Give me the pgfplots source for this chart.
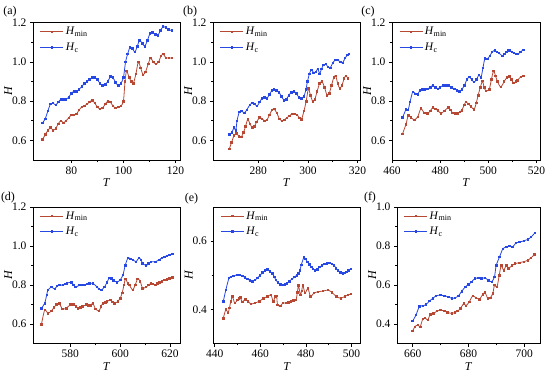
\documentclass[border=0pt]{standalone}
\usepackage{fontspec}
\setmainfont{Liberation Serif}
\usepackage{pgfplots}
\pgfplotsset{compat=1.18}
\definecolor{cmin}{RGB}{183,72,52}
\definecolor{cc}{RGB}{40,72,228}
\pgfplotsset{panel/.style={
  scale only axis, width=147pt, height=137pt,
  tick pos=left, tick align=outside,
  minor x tick num=1, minor y tick num=1,
  major tick length=3pt, minor tick length=1.8pt,
  axis line style={line width=0.6pt}, every tick/.style={black,line width=0.6pt},
  xlabel={\textit{T}}, ylabel={\textit{H}},
  ticklabel style={font=\fontsize{11.5}{13}\selectfont},
  label style={font=\fontsize{12}{13}\selectfont},
  xlabel style={yshift=2.5pt}, ylabel style={yshift=-7pt},
  /pgf/number format/assume math mode=true,
  xticklabel style={/pgf/number format/.cd, fixed, precision=0},
  yticklabel style={/pgf/number format/.cd, fixed, fixed zerofill, precision=1},
  legend style={at={(rel axis cs:0.04,0.99)}, anchor=north west, draw=none, fill=none,
     font=\fontsize{11.5}{13}\selectfont, row sep=2.5pt, inner sep=1pt},
  legend cell align=left,
  legend image code/.code={\draw[mark repeat=2,mark phase=2,#1] plot coordinates {(0pt,0pt) (11.5pt,0pt) (23pt,0pt)};},
  every axis plot/.append style={line width=0.8pt, mark size=0.75pt},
}}
\pgfplotsset{rmin/.style={cmin, mark=square*, smooth, tension=0.4}, rc/.style={cc, mark=square*, smooth, tension=0.4}}
\begin{document}
\begin{tikzpicture}[x=1pt,y=1pt]
\useasboundingbox (0,0) rectangle (550,374);
% (a)
\begin{axis}[panel, name=a, at={(33pt,214pt)}, anchor=south west, height=137.3pt,
  xmin=65.3, xmax=121.7, ymin=0.5, ymax=1.2, xtick={80,100,120}, ytick={0.6,0.8,1.0,1.2}]
\addplot[rmin] coordinates {(69,0.604)(70,0.63)(71,0.65)(72,0.665)(73,0.652)(74,0.66)(75,0.685)(76,0.70)(77,0.69)(78,0.70)(79,0.715)(80,0.73)(81,0.73)(82,0.735)(83,0.755)(84,0.77)(85,0.775)(86,0.785)(87,0.795)(88,0.805)(89,0.79)(90,0.77)(91,0.76)(92,0.765)(93,0.785)(94,0.80)(95,0.795)(96,0.775)(97,0.765)(98,0.77)(99,0.775)(100,0.80)(100.6,0.90)(101.2,0.955)(102.2,0.92)(103,0.90)(103.8,0.89)(104.8,0.94)(105.7,1.00)(106.6,0.97)(107.5,0.935)(108.5,0.95)(109.5,0.99)(110.4,1.02)(111.4,1.00)(112.4,0.99)(113.5,1.00)(114.4,1.03)(115.3,1.04)(116.3,1.02)(117.4,1.02)(118.5,1.02)};
\addplot[rc] coordinates {(69,0.69)(70,0.71)(71,0.75)(72,0.785)(73,0.79)(74,0.78)(75,0.795)(76,0.81)(77,0.81)(78,0.81)(79,0.82)(80,0.84)(81,0.85)(82,0.85)(83,0.86)(84,0.875)(85,0.89)(86,0.90)(87,0.91)(88,0.92)(89,0.92)(90,0.91)(91,0.89)(92,0.88)(93,0.885)(94,0.90)(95,0.925)(96,0.92)(97,0.895)(98,0.88)(99,0.89)(100,0.92)(100.8,1.00)(101.6,1.04)(102.5,1.075)(103.4,1.07)(104.4,1.05)(105.3,1.08)(106.2,1.11)(107.2,1.095)(108.2,1.08)(109.2,1.11)(110.2,1.145)(111.2,1.15)(112.2,1.14)(113.2,1.135)(114.2,1.16)(115.2,1.18)(116.2,1.175)(117.2,1.165)(118.5,1.16)};
\legend{\textit{H}\textsubscript{min}, \textit{H}\textsubscript{c}}
\end{axis}
\node[font=\fontsize{12}{13}\selectfont] at ([xshift=-23pt,yshift=11pt]a.north west) {(a)};
% (b)
\begin{axis}[panel, name=b, at={(213pt,214pt)}, anchor=south west, height=137.3pt,
  xmin=261.7, xmax=321, ymin=0.5, ymax=1.2, xtick={280,300,320}, ytick={0.6,0.8,1.0,1.2}]
\addplot[rmin] coordinates {(268.3,0.557)(269.2,0.59)(270.2,0.625)(271.2,0.635)(272.2,0.62)(273.1,0.617)(274,0.64)(274.8,0.67)(275.7,0.707)(276.6,0.685)(277.5,0.665)(278.4,0.67)(279.3,0.695)(280.5,0.716)(281.5,0.71)(282.5,0.70)(283.5,0.705)(284.5,0.73)(285.5,0.755)(286.4,0.76)(287.4,0.74)(288.5,0.71)(289.5,0.70)(290.5,0.705)(291.5,0.715)(292.5,0.725)(293.6,0.735)(294.6,0.735)(295.6,0.73)(296.6,0.715)(297.4,0.707)(298.4,0.75)(299.3,0.80)(300.2,0.865)(301,0.83)(301.9,0.80)(302.8,0.81)(303.7,0.85)(304.7,0.89)(305.7,0.90)(306.7,0.87)(307.7,0.83)(308.6,0.84)(309.5,0.88)(310.4,0.92)(311.2,0.93)(312,0.89)(312.8,0.865)(313.7,0.88)(314.6,0.915)(315.3,0.93)(316.2,0.915)};
\addplot[rc] coordinates {(268.3,0.63)(269.3,0.64)(270.2,0.665)(270.9,0.65)(271.4,0.70)(272.3,0.745)(273.2,0.75)(274.3,0.74)(275.3,0.755)(276.5,0.78)(277.5,0.79)(278.5,0.785)(279.5,0.775)(280.5,0.795)(281.5,0.815)(282.5,0.82)(283.5,0.815)(284.5,0.835)(285.5,0.855)(286.3,0.86)(287.3,0.855)(288.3,0.845)(289.3,0.825)(290.3,0.805)(291.3,0.81)(292.3,0.83)(293.3,0.845)(294.3,0.85)(295.3,0.84)(296.3,0.82)(297.3,0.815)(298.4,0.825)(299.2,0.86)(299.8,0.90)(300.6,0.94)(301.4,0.96)(302.3,0.945)(303.2,0.95)(304,0.965)(304.7,0.94)(305.5,0.965)(306.3,0.985)(307.2,0.99)(308,0.975)(309,0.97)(310,0.995)(311,1.01)(312,1.01)(313,1.00)(314,0.995)(315,1.02)(316,1.035)(316.6,1.04)};
\legend{\textit{H}\textsubscript{min}, \textit{H}\textsubscript{c}}
\end{axis}
\node[font=\fontsize{12}{13}\selectfont] at ([xshift=-23pt,yshift=11pt]b.north west) {(b)};
% (c)
\begin{axis}[panel, name=c, at={(392pt,214pt)}, anchor=south west, width=148pt, height=137.3pt,
  xmin=460, xmax=521.5, ymin=0.5, ymax=1.2, xtick={460,480,500,520}, ytick={0.6,0.8,1.0,1.2}]
\addplot[rmin] coordinates {(464.4,0.634)(465.8,0.682)(466.8,0.728)(467.9,0.716)(469.3,0.705)(470.7,0.72)(472,0.762)(473.4,0.74)(474.8,0.737)(475.9,0.75)(476.9,0.767)(478,0.76)(479,0.753)(480.4,0.737)(481.7,0.75)(483.4,0.767)(484.3,0.755)(485.2,0.74)(486.3,0.737)(487.3,0.737)(488.2,0.745)(489,0.753)(490,0.78)(490.7,0.796)(491.8,0.785)(492.8,0.774)(494.1,0.757)(495,0.79)(495.8,0.83)(496.7,0.87)(497.6,0.902)(498.3,0.87)(499,0.853)(500.4,0.86)(501.3,0.91)(502.2,0.955)(503,0.93)(503.8,0.90)(505.2,0.872)(506.6,0.90)(507.7,0.92)(508.7,0.927)(509.6,0.91)(510.5,0.893)(511.4,0.90)(512.2,0.907)(513.5,0.924)(514.6,0.93)};
\addplot[rc] coordinates {(464.4,0.716)(465.8,0.757)(466.7,0.755)(467.5,0.796)(468.6,0.847)(469.8,0.838)(470.8,0.835)(471.5,0.855)(472.5,0.86)(473.4,0.86)(474.8,0.863)(475.9,0.87)(476.9,0.88)(478,0.87)(479,0.863)(480,0.87)(481.1,0.88)(482.2,0.88)(483.4,0.88)(484.7,0.87)(486,0.863)(487,0.855)(488,0.85)(489,0.86)(490.1,0.88)(491.1,0.91)(492.1,0.923)(493.1,0.91)(494.1,0.897)(495.1,0.91)(496.2,0.935)(497,0.92)(497.8,0.97)(498.6,1.018)(499.6,1.015)(500.6,1.03)(501.6,1.05)(502.7,1.06)(503.6,1.05)(504.5,1.045)(505.9,1.03)(506.7,1.04)(507.5,1.05)(508.3,1.06)(509,1.06)(509.8,1.05)(510.6,1.045)(511.5,1.04)(512.4,1.04)(513.3,1.05)(514.6,1.062)};
\legend{\textit{H}\textsubscript{min}, \textit{H}\textsubscript{c}}
\end{axis}
\node[font=\fontsize{12}{13}\selectfont] at ([xshift=-24pt,yshift=11pt]c.north west) {(c)};
% (d)
\begin{axis}[panel, name=d, at={(33pt,30.3pt)}, anchor=south west, height=136.7pt,
  xmin=565, xmax=624, ymin=0.5, ymax=1.2, xtick={580,600,620}, ytick={0.6,0.8,1.0,1.2}]
\addplot[rmin] coordinates {(568.4,0.60)(569.7,0.673)(571,0.656)(572.4,0.668)(573.4,0.685)(574.4,0.70)(575.5,0.707)(576.8,0.678)(578.4,0.682)(580,0.70)(581.3,0.702)(582.2,0.69)(583,0.682)(584,0.686)(584.8,0.69)(586.4,0.70)(587.2,0.696)(588,0.695)(589,0.707)(590.1,0.678)(591.5,0.668)(592.3,0.69)(593,0.707)(594,0.712)(594.7,0.716)(596,0.724)(596.8,0.715)(597.7,0.707)(599,0.716)(600,0.733)(600.8,0.76)(601.5,0.80)(602.1,0.832)(603,0.81)(603.7,0.80)(605,0.775)(606,0.80)(607,0.832)(608,0.82)(609,0.784)(610.4,0.79)(611.4,0.80)(612.4,0.81)(613.2,0.805)(614.1,0.80)(615,0.808)(615.7,0.815)(616.7,0.82)(617.7,0.827)(618.7,0.83)(619.7,0.835)(621,0.84)};
\addplot[rc] coordinates {(568.4,0.682)(569.7,0.707)(570.5,0.75)(571,0.775)(572.4,0.79)(573.7,0.78)(574.6,0.795)(575.5,0.80)(577,0.80)(578,0.805)(578.7,0.81)(580.4,0.815)(581.3,0.80)(582.1,0.79)(583.7,0.80)(584.7,0.80)(585.7,0.80)(586.7,0.805)(587.7,0.81)(589,0.81)(590.7,0.79)(591.5,0.78)(592.4,0.775)(593.7,0.79)(594.7,0.815)(595.7,0.838)(596.5,0.835)(597.3,0.825)(598.7,0.815)(600,0.827)(601.1,0.852)(602,0.90)(603.1,0.94)(604,0.935)(605,0.93)(606.4,0.92)(607.5,0.94)(608.3,0.93)(609,0.912)(610.4,0.90)(611.4,0.91)(612.4,0.92)(614.1,0.92)(615.7,0.93)(616.7,0.94)(617.7,0.945)(618.7,0.95)(619.7,0.955)(621,0.96)};
\legend{\textit{H}\textsubscript{min}, \textit{H}\textsubscript{c}}
\end{axis}
\node[font=\fontsize{12}{13}\selectfont] at ([xshift=-25pt,yshift=9pt]d.north west) {(d)};
% (e)
\begin{axis}[panel, name=e, at={(213.5pt,30.3pt)}, anchor=south west, height=136.7pt,
  xmin=439.5, xmax=504, ymin=0.3, ymax=0.7, xtick={440,460,480,500}, ytick={0.4,0.6}]
\addplot[rmin] coordinates {(443.8,0.374)(444.9,0.40)(445.9,0.39)(446.5,0.405)(447.1,0.424)(447.8,0.438)(448.8,0.419)(450,0.428)(450.6,0.433)(451.2,0.435)(452.2,0.422)(453.4,0.43)(454.7,0.424)(455.9,0.416)(457.6,0.419)(459.6,0.424)(461.5,0.433)(463.2,0.438)(464.7,0.443)(465.7,0.424)(466.6,0.438)(467.2,0.44)(467.6,0.414)(468.8,0.41)(469.9,0.419)(471.3,0.419)(472.4,0.421)(473.5,0.424)(474.6,0.426)(475.7,0.428)(476.3,0.45)(476.8,0.471)(477.6,0.443)(478.2,0.455)(478.7,0.471)(479.7,0.448)(480.9,0.462)(482.1,0.438)(483.5,0.448)(485.3,0.452)(487.5,0.454)(489.7,0.457)(491.5,0.45)(493.4,0.438)(495.3,0.433)(497.1,0.438)(498.5,0.443)(499.7,0.445)};
\addplot[rc] coordinates {(443.8,0.424)(444.9,0.457)(446.3,0.492)(447.2,0.495)(448.2,0.498)(450,0.502)(451.1,0.501)(452.2,0.498)(453.3,0.494)(454.4,0.489)(455.5,0.485)(456.6,0.483)(457.7,0.486)(458.8,0.492)(459.9,0.50)(461,0.508)(462.1,0.514)(463.2,0.517)(464.3,0.512)(465.4,0.505)(466.2,0.495)(466.9,0.486)(467.8,0.479)(468.8,0.473)(469.8,0.472)(470.9,0.473)(471.8,0.477)(472.8,0.483)(473.9,0.489)(475,0.495)(476,0.50)(476.8,0.505)(477.4,0.515)(478,0.53)(479.1,0.552)(479.8,0.548)(480.6,0.54)(481.5,0.532)(482.4,0.524)(483.2,0.519)(484.1,0.514)(485,0.518)(486,0.524)(487.1,0.529)(488.2,0.533)(489.3,0.535)(490.4,0.536)(491.4,0.533)(492.4,0.529)(493.3,0.521)(494.1,0.514)(495.2,0.509)(496.3,0.505)(497.1,0.507)(497.8,0.51)(498.8,0.514)(499.7,0.519)};
\legend{\textit{H}\textsubscript{min}, \textit{H}\textsubscript{c}}
\end{axis}
\node[font=\fontsize{12}{13}\selectfont] at ([xshift=-22pt,yshift=8pt]e.north west) {(e)};
% (f)
\begin{axis}[panel, name=f, at={(397pt,30.3pt)}, anchor=south west, width=143pt, height=136.7pt,
  xmin=654.4, xmax=705.6, ymin=0.3, ymax=1.0, xtick={660,680,700}, ytick={0.4,0.6,0.8,1.0}]
\addplot[rmin] coordinates {(660,0.365)(660.8,0.387)(661.8,0.396)(662.7,0.387)(663.6,0.426)(664.4,0.433)(665.4,0.421)(666.3,0.45)(667.5,0.455)(668.7,0.467)(669.9,0.472)(671.4,0.467)(672.5,0.46)(674,0.455)(675.2,0.46)(676.1,0.467)(677.1,0.48)(678.3,0.506)(679.1,0.494)(680.3,0.515)(681.5,0.545)(682.7,0.535)(683.9,0.528)(685.1,0.552)(685.9,0.562)(686.9,0.532)(687.8,0.535)(688.7,0.557)(689.3,0.60)(690.2,0.59)(691,0.65)(691.7,0.70)(692.6,0.676)(693.5,0.70)(694.3,0.685)(695.5,0.70)(696.7,0.71)(698.2,0.715)(699.8,0.72)(701.2,0.727)(702.4,0.74)(703.6,0.756)};
\addplot[rc] coordinates {(660,0.416)(661.2,0.447)(662.4,0.49)(663.6,0.494)(664.8,0.50)(666,0.518)(667.2,0.532)(668.4,0.545)(669.9,0.549)(671.4,0.545)(672.8,0.54)(674,0.532)(675.2,0.535)(676.4,0.545)(677.6,0.569)(678.8,0.59)(680,0.603)(681.1,0.617)(682.3,0.634)(683.5,0.637)(684.7,0.634)(685.9,0.637)(687.1,0.625)(688.3,0.617)(689.3,0.642)(689.9,0.70)(691.1,0.744)(692.3,0.786)(693.5,0.795)(694.6,0.80)(695.8,0.795)(697,0.817)(698.2,0.82)(699.8,0.827)(701.2,0.834)(702.4,0.846)(703.8,0.868)};
\legend{\textit{H}\textsubscript{min}, \textit{H}\textsubscript{c}}
\end{axis}
\node[font=\fontsize{12}{13}\selectfont] at ([xshift=-27pt,yshift=9pt]f.north west) {(f)};
\end{tikzpicture}
\end{document}
